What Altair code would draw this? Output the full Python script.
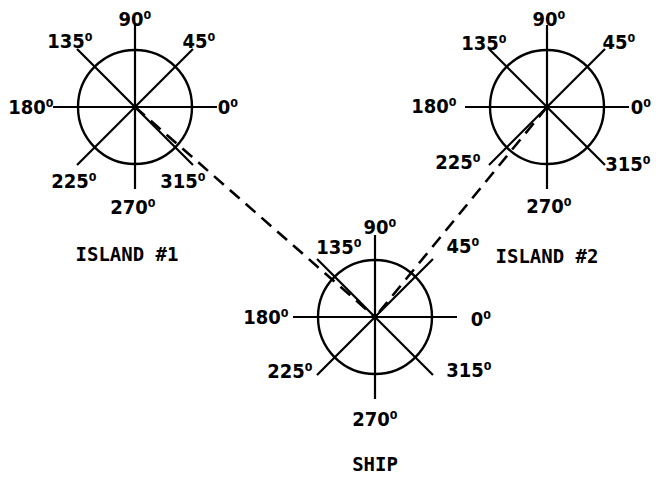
import math
import altair as alt
import pandas as pd

# ---- data ----
roses = ["ISLAND #1", "ISLAND #2", "SHIP"]
rose_x = [135, 547, 375]
rose_y = [107, 107, 317]
bearings = [0, 45, 90, 135, 180, 225, 270, 315]
bearing_text = ["0\u2070", "45\u2070", "90\u2070", "135\u2070", "180\u2070", "225\u2070", "270\u2070", "315\u2070"]
# label offsets (text centre relative to rose centre), per rose, per bearing
label_dx = [
    [93, 64, 0, -65, -104, -61, -2, 48],
    [94, 72, 2, -63, -113, -89, 2, 81],
    [106, 88, 5, -36, -109, -85, 0, 94],
]
label_dy = [
    [1, -65, -87, -65, 1, 75, 101, 75],
    [1, -64, -87, -63, 0, 56, 100, 58],
    [3, -70, -89, -69, 1, 55, 103, 54],
]
name_dx = [-8, 0, 0]
name_dy = [148, 150, 148]
# bearing lines: from each island to the ship
sight_from = ["ISLAND #1", "ISLAND #2"]
sight_to = ["SHIP", "SHIP"]

SPOKE = 82
RADIUS = 57

spokes, labels, names, circles, sights = [], [], [], [], []
for i, r in enumerate(roses):
    cx, cy = rose_x[i], rose_y[i]
    circles.append({"x": cx, "y": cy})
    names.append({"x": cx + name_dx[i], "y": cy + name_dy[i], "t": r})
    for j, b in enumerate(bearings):
        a = math.radians(b)
        spokes.append({"x": cx, "y": cy,
                       "x2": cx + SPOKE * math.cos(a), "y2": cy - SPOKE * math.sin(a)})
        labels.append({"x": cx + label_dx[i][j], "y": cy + label_dy[i][j], "t": bearing_text[j]})
for f, t in zip(sight_from, sight_to):
    a, b = roses.index(f), roses.index(t)
    sights.append({"x": rose_x[a], "y": rose_y[a], "x2": rose_x[b], "y2": rose_y[b]})

W, H = 644, 468
xs = alt.Scale(domain=[8, 8 + W], nice=False, zero=False)
ys = alt.Scale(domain=[8, 8 + H], nice=False, zero=False, reverse=True)
X = lambda f="x": alt.X(f"{f}:Q", scale=xs, axis=None)
Y = lambda f="y": alt.Y(f"{f}:Q", scale=ys, axis=None)

FONT = "Liberation Sans Narrow, DejaVu Sans Condensed, DejaVu Sans"

spoke_layer = alt.Chart(pd.DataFrame(spokes)).mark_rule(
    color="black", strokeWidth=2.2, strokeCap="butt"
).encode(x=X(), y=Y(), x2="x2:Q", y2="y2:Q")

sight_layer = alt.Chart(pd.DataFrame(sights)).mark_rule(
    color="black", strokeWidth=2.6, strokeDash=[13, 8], strokeCap="butt"
).encode(x=X(), y=Y(), x2="x2:Q", y2="y2:Q")

circle_layer = alt.Chart(pd.DataFrame(circles)).mark_point(
    shape="circle", filled=False, color="black", strokeWidth=2.4, opacity=1,
    size=(2 * RADIUS) ** 2
).encode(x=X(), y=Y())

label_layer = alt.Chart(pd.DataFrame(labels)).mark_text(
    font=FONT, fontSize=20, fontWeight="bold", color="black",
    align="center", baseline="middle"
).encode(x=X(), y=Y(), text="t:N")

name_layer = alt.Chart(pd.DataFrame(names)).mark_text(
    font="DejaVu Sans Mono", fontSize=19, fontWeight="bold", color="black",
    align="center", baseline="middle"
).encode(x=X(), y=Y(), text="t:N")

chart = alt.layer(
    circle_layer, spoke_layer, sight_layer, label_layer, name_layer
).properties(
    width=W, height=H, padding=0, autosize=alt.AutoSizeParams(type="none"),
    background="white"
).configure_view(strokeWidth=0)

chart.save("out.html", embed_options={"renderer": "svg", "actions": False})
